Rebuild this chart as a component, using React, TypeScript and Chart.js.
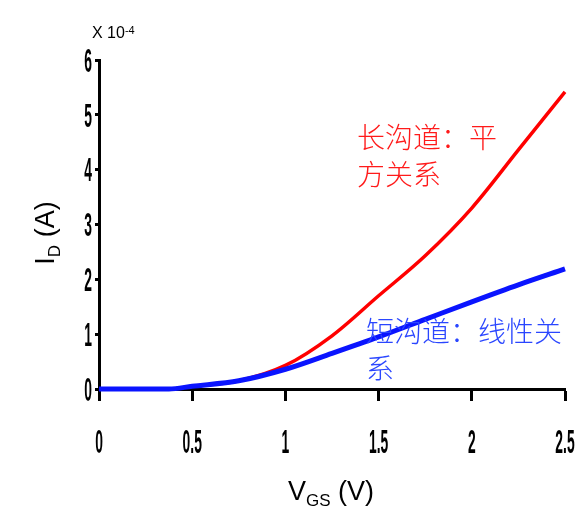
import React, { useEffect, useRef } from "react";
import { Chart, registerables } from "chart.js";

Chart.register(...registerables);

// Gate voltage sweep (V)
const vgs = [0, 0.375, 0.5, 0.75, 1.0, 1.25, 1.5, 1.75, 2.0, 2.25, 2.5];
// Drain current, units of 1e-4 A
const idLongChannel = [0, 0, 0.05, 0.15, 0.43, 0.97, 1.7, 2.43, 3.3, 4.36, 5.42];
const idShortChannel = [0, 0, 0.05, 0.15, 0.36, 0.65, 0.95, 1.27, 1.59, 1.9, 2.19];

const xTickValues = [0, 0.5, 1, 1.5, 2, 2.5];
const xTickLabels = ["0", "0.5", "1", "1.5", "2", "2.5"];
const yTickValues = [0, 1, 2, 3, 4, 5, 6];
const yTickLabels = ["0", "1", "2", "3", "4", "5", "6"];

const longChannelNote = ["长沟道：平", "方关系"];
const shortChannelNote = ["短沟道：线性关", "系"];

const SANS = '"Liberation Sans", Arial, sans-serif';
const CJK = '"Noto Sans CJK SC", sans-serif';

function drawNarrow(
  ctx: CanvasRenderingContext2D,
  text: string,
  x: number,
  centerY: number,
  align: CanvasTextAlign
) {
  const size = 33;
  ctx.save();
  ctx.translate(x, centerY + size * 0.358);
  ctx.scale(0.42, 1);
  ctx.font = `bold ${size}px ${SANS}`;
  ctx.textAlign = align;
  ctx.textBaseline = "alphabetic";
  ctx.fillStyle = "#000";
  ctx.fillText(text, 0, 0);
  ctx.restore();
}

type Run = { text: string; size: number; shift: number };

function drawRuns(ctx: CanvasRenderingContext2D, runs: Run[], centerX: number, baseline: number) {
  let total = 0;
  for (const r of runs) {
    ctx.font = `${r.size}px ${SANS}`;
    total += ctx.measureText(r.text).width;
  }
  let x = centerX - total / 2;
  for (const r of runs) {
    ctx.font = `${r.size}px ${SANS}`;
    ctx.fillText(r.text, x, baseline + r.shift);
    x += ctx.measureText(r.text).width;
  }
}

const figureText = {
  id: "figureText",
  afterDraw(chart: Chart) {
    const ctx = chart.ctx;
    const xs = chart.scales.x;
    const ys = chart.scales.y;
    const area = chart.chartArea;

    // Condensed bold tick labels
    xTickValues.forEach((v, i) => drawNarrow(ctx, xTickLabels[i], xs.getPixelForValue(v), 441, "center"));
    yTickValues.forEach((v, i) => drawNarrow(ctx, yTickLabels[i], 92, ys.getPixelForValue(v), "right"));

    ctx.save();
    ctx.fillStyle = "#000";
    ctx.textAlign = "left";
    ctx.textBaseline = "alphabetic";

    // Axis multiplier
    ctx.font = `16px ${SANS}`;
    ctx.fillText("X 10", 92, 38);
    const w = ctx.measureText("X 10").width;
    ctx.font = `11px ${SANS}`;
    ctx.fillText("-4", 92 + w, 34);

    // x-axis title
    drawRuns(
      ctx,
      [
        { text: "V", size: 27, shift: 0 },
        { text: "GS", size: 17, shift: 6 },
        { text: " (V)", size: 27, shift: 0 },
      ],
      (area.left + area.right) / 2 - 1,
      500
    );

    // y-axis title
    ctx.save();
    ctx.translate(54, 233);
    ctx.rotate(-Math.PI / 2);
    drawRuns(
      ctx,
      [
        { text: "I", size: 27, shift: 0 },
        { text: "D", size: 17, shift: 6 },
        { text: " (A)", size: 27, shift: 0 },
      ],
      0,
      0
    );
    ctx.restore();

    // Curve annotations
    ctx.font = `300 28px ${CJK}`;
    ctx.textBaseline = "middle";
    ctx.fillStyle = "#ff1a1a";
    longChannelNote.forEach((line, i) => ctx.fillText(line, 357, 137 + i * 37));
    ctx.fillStyle = "#2a46ff";
    shortChannelNote.forEach((line, i) => ctx.fillText(line, 366, 331 + i * 37));
    ctx.restore();
  },
};

export default function App() {
  const canvasRef = useRef<HTMLCanvasElement | null>(null);

  useEffect(() => {
    if (!canvasRef.current) return;
    const chart = new Chart(canvasRef.current, {
      type: "line",
      data: {
        labels: vgs,
        datasets: [
          {
            label: "short channel",
            data: vgs.map((x, i) => ({ x, y: idShortChannel[i] })),
            borderColor: "#0a14ff",
            borderWidth: 5,
            pointRadius: 0,
            cubicInterpolationMode: "monotone",
            clip: false,
            order: 0,
          },
          {
            label: "long channel",
            data: vgs.map((x, i) => ({ x, y: idLongChannel[i] })),
            borderColor: "#ff0000",
            borderWidth: 3.5,
            pointRadius: 0,
            cubicInterpolationMode: "monotone",
            clip: false,
            order: 1,
          },
        ],
      },
      options: {
        responsive: false,
        animation: false,
        devicePixelRatio: 1,
        layout: { padding: { left: 95, right: 19, top: 60, bottom: 109 } },
        plugins: { legend: { display: false }, tooltip: { enabled: false } },
        scales: {
          x: {
            type: "linear",
            min: 0,
            max: 2.5,
            afterBuildTicks: (s: any) => {
              s.ticks = xTickValues.map((value) => ({ value }));
            },
            ticks: { display: false },
            grid: {
              display: true,
              drawOnChartArea: false,
              drawTicks: true,
              tickLength: 12,
              tickColor: "#000",
              tickWidth: 3,
            },
            border: { display: true, color: "#000", width: 3 },
          },
          y: {
            type: "linear",
            min: 0,
            max: 6,
            afterBuildTicks: (s: any) => {
              s.ticks = yTickValues.map((value) => ({ value }));
            },
            ticks: { display: false },
            grid: {
              display: true,
              drawOnChartArea: false,
              drawTicks: true,
              tickLength: 4,
              tickColor: "#000",
              tickWidth: 3,
            },
            border: { display: true, color: "#000", width: 3 },
          },
        },
      },
      plugins: [figureText],
    });
    return () => chart.destroy();
  }, []);

  return (
    <div style={{ position: "fixed", left: 0, top: 0, width: 584, height: 510, background: "#fff" }}>
      <canvas ref={canvasRef} width={584} height={510} />
    </div>
  );
}
